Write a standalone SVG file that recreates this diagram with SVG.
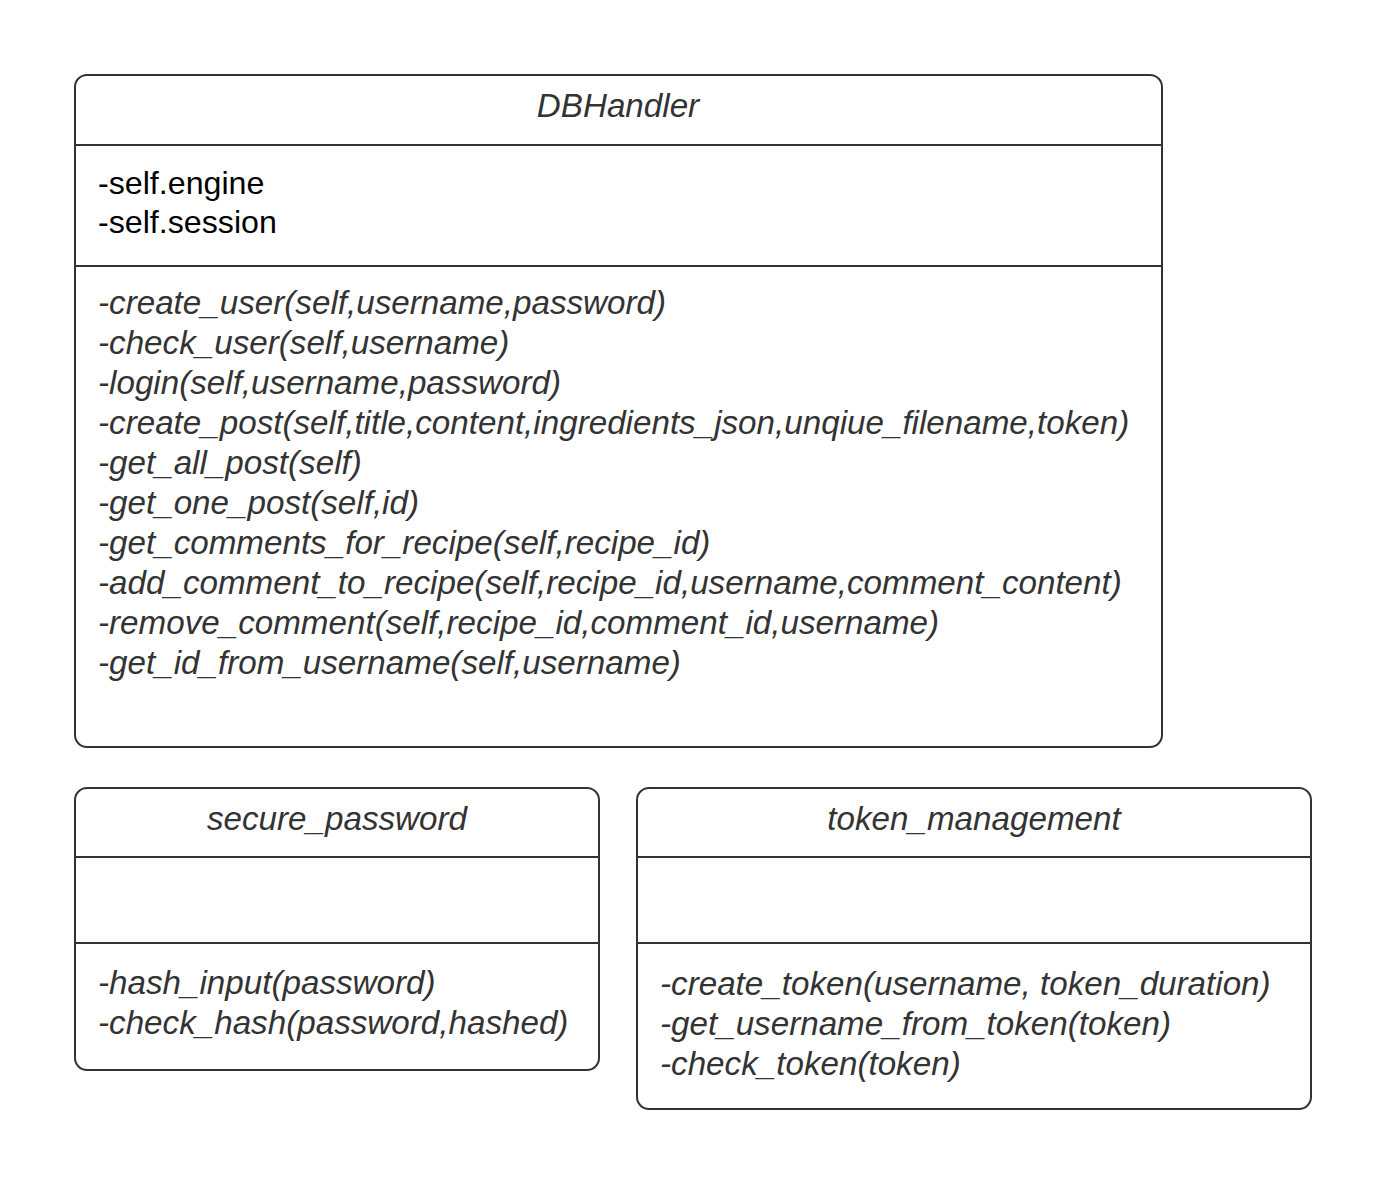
<svg xmlns="http://www.w3.org/2000/svg" width="1388" height="1185" viewBox="0 0 1388 1185">
<style>
.box{fill:#fff;stroke:#333;stroke-width:2}
.div{stroke:#333;stroke-width:2}
.t{font-family:"Liberation Sans",Arial,sans-serif;font-size:33.2px;fill:#333}
.title{font-style:italic;text-anchor:middle}
.attr{fill:#000;font-size:32.2px}
.m{font-style:italic}
</style>
<rect width="1388" height="1185" fill="#fff"/>
<g id="DBHandler">
<rect class="box" x="75" y="75" width="1087" height="672" rx="12"/>
<line class="div" x1="75" y1="145" x2="1162" y2="145"/>
<line class="div" x1="75" y1="266" x2="1162" y2="266"/>
<text class="t title" x="618" y="117">DBHandler</text>
<text class="t attr" x="98" y="194">-self.engine</text>
<text class="t attr" x="98" y="233">-self.session</text>
<text class="t m" x="98" y="314">-create_user(self,username,password)</text>
<text class="t m" x="98" y="354">-check_user(self,username)</text>
<text class="t m" x="98" y="394">-login(self,username,password)</text>
<text class="t m" x="98" y="434">-create_post(self,title,content,ingredients_json,unqiue_filename,token)</text>
<text class="t m" x="98" y="474">-get_all_post(self)</text>
<text class="t m" x="98" y="514">-get_one_post(self,id)</text>
<text class="t m" x="98" y="554">-get_comments_for_recipe(self,recipe_id)</text>
<text class="t m" x="98" y="594">-add_comment_to_recipe(self,recipe_id,username,comment_content)</text>
<text class="t m" x="98" y="634">-remove_comment(self,recipe_id,comment_id,username)</text>
<text class="t m" x="98" y="674">-get_id_from_username(self,username)</text>
</g>
<g id="secure_password">
<rect class="box" x="75" y="788" width="524" height="282" rx="12"/>
<line class="div" x1="75" y1="857" x2="599" y2="857"/>
<line class="div" x1="75" y1="943" x2="599" y2="943"/>
<text class="t title" x="337" y="830">secure_password</text>
<text class="t m" x="98" y="994">-hash_input(password)</text>
<text class="t m" x="98" y="1034">-check_hash(password,hashed)</text>
</g>
<g id="token_management">
<rect class="box" x="637" y="788" width="674" height="321" rx="12"/>
<line class="div" x1="637" y1="857" x2="1311" y2="857"/>
<line class="div" x1="637" y1="943" x2="1311" y2="943"/>
<text class="t title" x="974" y="830">token_management</text>
<text class="t m" x="660" y="995">-create_token(username, token_duration)</text>
<text class="t m" x="660" y="1035">-get_username_from_token(token)</text>
<text class="t m" x="660" y="1075">-check_token(token)</text>
</g>
<g id="connectors"></g>
</svg>
